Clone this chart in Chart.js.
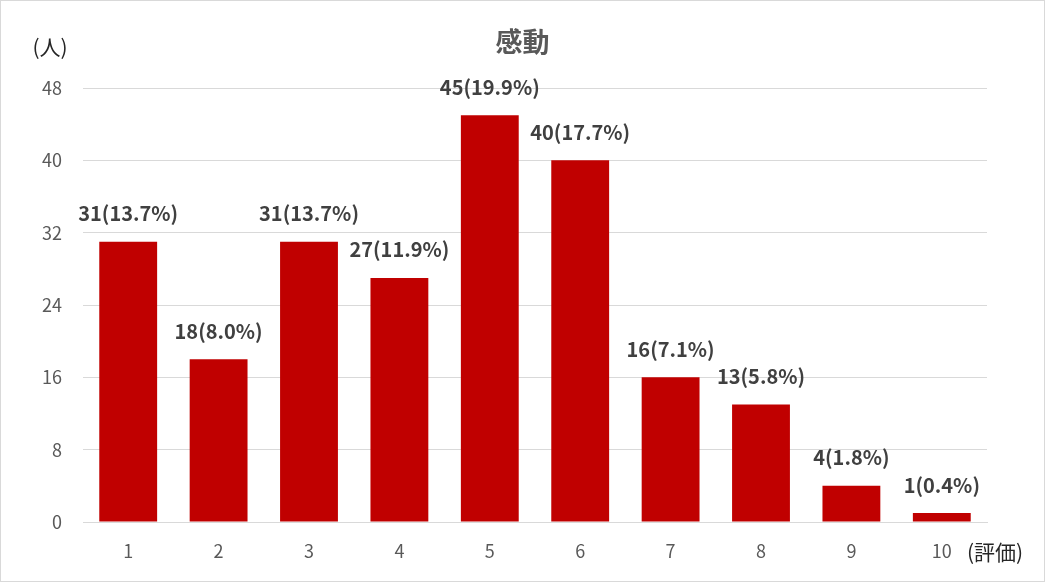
<!DOCTYPE html>
<html lang="ja">
<head>
<meta charset="UTF-8">
<title>感動</title>
<script src="https://cdn.jsdelivr.net/npm/chart.js@4"></script>
<style>
  html, body { margin: 0; padding: 0; background: #fff; }
  #wrap { width: 1045px; height: 582px; }
</style>
</head>
<body>
<div id="wrap"><canvas id="chart"></canvas></div>
<script>
// data
const categories = ['1', '2', '3', '4', '5', '6', '7', '8', '9', '10'];
const counts = [31, 18, 31, 27, 45, 40, 16, 13, 4, 1];
const yTicks = [0, 8, 16, 24, 32, 40, 48];

const FONT = '"Noto Sans CJK JP", "Noto Sans", sans-serif';
const total = counts.reduce((a, b) => a + b, 0);

// title, unit labels, value labels and the outer frame
const decor = {
    id: 'decor',
    afterDatasetsDraw(chart) {
        const ctx = chart.ctx;
        const meta = chart.getDatasetMeta(0);
        ctx.save();
        ctx.fillStyle = '#404040';
        ctx.font = 'bold 20px ' + FONT;
        ctx.textAlign = 'center';
        ctx.textBaseline = 'middle';
        meta.data.forEach((bar, i) => {
            const pct = (counts[i] / total * 100).toFixed(1);
            ctx.fillText(counts[i] + '(' + pct + '%)', bar.x, bar.y - 28);
        });

        ctx.fillStyle = '#595959';
        ctx.font = 'bold 27px ' + FONT;
        ctx.fillText('感動', chart.width / 2, 42);

        ctx.fillStyle = '#262626';
        ctx.font = '21px ' + FONT;
        ctx.fillText('(人)', 50, 47);
        ctx.textAlign = 'left';
        ctx.fillText('(評価)', 967, 552);

        ctx.strokeStyle = '#d9d9d9';
        ctx.lineWidth = 1;
        ctx.strokeRect(0.5, 0.5, chart.width - 1, chart.height - 1);
        ctx.restore();
    }
};

new Chart(document.getElementById('chart'), {
    type: 'bar',
    data: {
        labels: categories,
        datasets: [{
            data: counts,
            backgroundColor: '#c00000',
            borderWidth: 0,
            barPercentage: 0.64,
            categoryPercentage: 1.0
        }]
    },
    options: {
        responsive: true,
        maintainAspectRatio: false,
        animation: false,
        layout: { padding: { top: 88, right: 58, left: 0, bottom: 0 } },
        plugins: {
            legend: { display: false },
            tooltip: { enabled: false }
        },
        scales: {
            x: {
                grid: { display: false, drawTicks: false },
                border: { display: true, color: '#d9d9d9' },
                ticks: { color: '#595959', font: { family: FONT, size: 18 }, padding: 18 },
                afterFit(scale) { scale.height = 60; }
            },
            y: {
                min: 0,
                max: 48,
                afterBuildTicks(scale) { scale.ticks = yTicks.map(v => ({ value: v })); },
                grid: { color: '#d9d9d9', drawTicks: false },
                border: { display: false },
                ticks: { color: '#595959', font: { family: FONT, size: 18 }, padding: 21 },
                afterFit(scale) { scale.width = 83; }
            }
        }
    },
    plugins: [decor]
});
</script>
</body>
</html>
